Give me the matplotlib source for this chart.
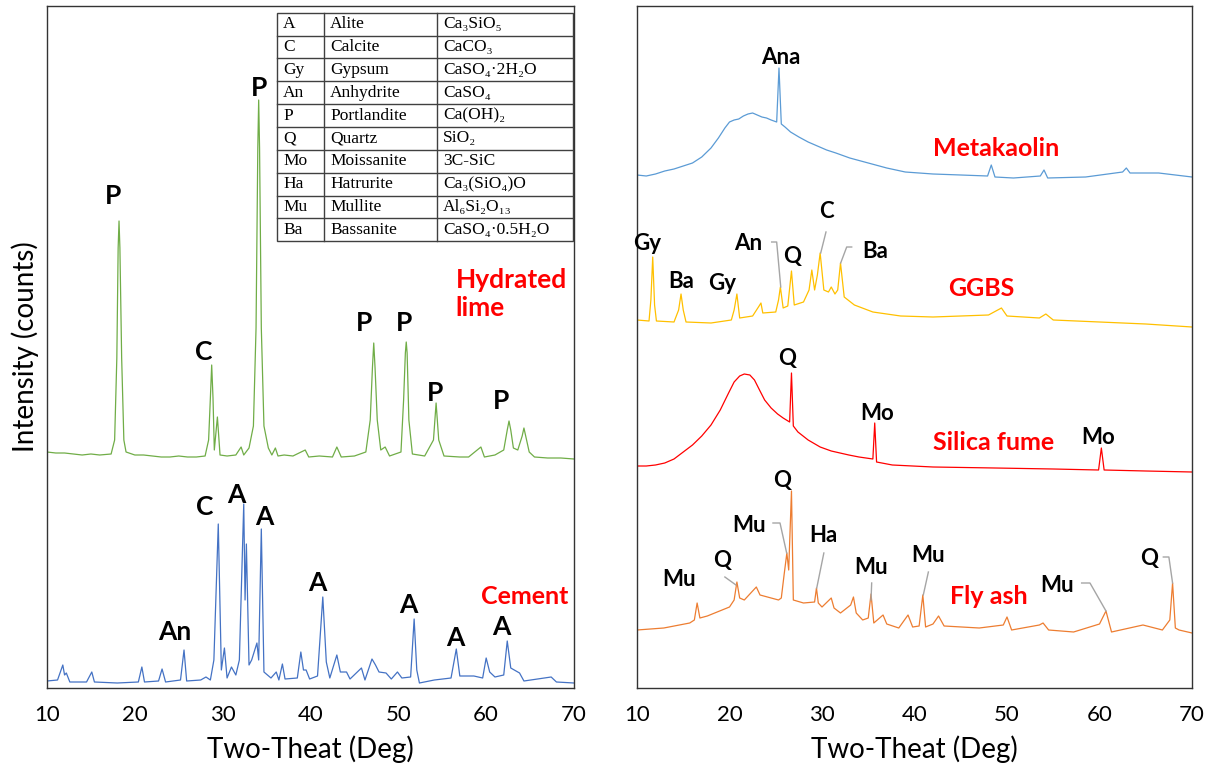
import matplotlib.pyplot as plt

# ---- data: 2-theta (deg) and intensity (arbitrary counts, stacked) ----
lime_x = [10, 11, 12, 13, 14, 15, 16, 17.3, 17.7, 17.95, 18.1, 18.2, 18.3, 18.5, 18.75, 19.0, 20, 21, 22, 23,
          24, 25, 26, 27, 28.0, 28.4, 28.6, 28.75, 28.9, 29.05, 29.4, 29.7, 30.5, 31.5, 32.1, 32.4, 33.0, 33.5,
          33.8, 34.0, 34.1, 34.2, 34.4, 34.7, 35.2, 35.6, 36.0, 36.3, 37, 38, 39.4, 39.8, 41, 42.5, 43.0, 43.5,
          45, 46.3, 46.8, 47.05, 47.2, 47.35, 47.6, 48.0, 48.5, 49.0, 50.3, 50.6, 50.8, 50.9, 51.0, 51.2,
          51.6, 53.0, 54.0, 54.3, 54.6, 55.2, 57, 58, 59.4, 59.8, 61, 62.0, 62.4, 62.6, 62.8, 63.1, 63.6,
          64.1, 64.3, 64.5, 64.9, 65.5, 67, 68.5, 70]
lime_y = [236, 235, 235, 234, 233, 234, 233, 234, 248, 330, 440, 467, 440, 330, 248, 236, 233, 233, 232, 231,
          231, 232, 231, 231, 232, 248, 290, 323, 290, 238, 271, 233, 232, 233, 241, 233, 240, 262,
          360, 540, 588, 540, 360, 262, 240, 233, 240, 232, 233, 232, 238, 231, 232, 231, 241, 231,
          232, 236, 268, 320, 345, 320, 268, 238, 241, 232, 236, 288, 335, 346, 335, 268,
          234, 232, 248, 285, 248, 232, 231, 231, 241, 231, 233, 238, 258, 267, 258, 240, 238,
          252, 260, 252, 236, 231, 230, 230, 229]

cement_x = [10, 11.2, 11.8, 12.0, 12.2, 12.6, 14.5, 15.1, 15.4, 18, 20.4, 20.8, 21.1, 22.7, 23.1, 23.5, 25.2,
            25.6, 25.9, 27.5, 28.1, 28.6, 29.0, 29.5, 29.85, 30.2, 30.5, 31.0, 31.5, 31.9, 32.4, 32.55, 32.7,
            33.0, 33.3, 33.9, 34.1, 34.4, 34.7, 35.5, 36.1, 36.4, 36.8, 37.1, 38.5, 38.9, 39.2, 39.5, 39.9,
            40.8, 41.4, 41.8, 42.2, 43.0, 43.4, 44.1, 44.5, 45.8, 46.2, 47.0, 47.4, 47.8, 48.6, 49.2, 49.9,
            50.4, 51.4, 51.8, 52.1, 52.4, 54.1, 56.0, 56.6, 57.0, 58.6, 59.6, 60.0, 60.4, 61.0, 62.0, 62.4,
            62.8, 63.8, 64.3, 67.4, 68.0, 70]
cement_y = [7, 8, 23, 13, 15, 6, 6, 16, 6, 5, 6, 21, 6, 7, 19, 6, 8,
            38, 7, 8, 11, 8, 28, 164, 18, 40, 10, 21, 13, 28, 184, 88, 144,
            23, 28, 45, 28, 159, 16, 10, 16, 8, 24, 9, 10, 36, 18, 18, 9,
            12, 91, 26, 10, 33, 16, 16, 9, 20, 8, 29, 23, 16, 15, 9, 16,
            10, 11, 69, 18, 5, 8, 10, 39, 12, 12, 10, 30, 16, 11, 13, 47,
            20, 15, 7, 11, 6, 5]

meta_x = [10, 11, 12, 13, 14, 15, 16, 17, 18, 18.8, 19.5, 20, 20.5, 21, 21.5, 22, 22.5, 23, 23.5, 24, 24.5,
          25.1, 25.35, 25.6, 26, 26.6, 27.5, 28.5, 29.5, 30.5, 31.5, 33, 35, 37, 39, 42, 45, 47.9, 48.3, 48.7,
          50.7, 53.6, 54.0, 54.4, 58.5, 62.5, 62.9, 63.3, 66.4, 70]
meta_y = [513, 512, 514, 517, 519, 522, 525, 531, 540, 550, 560, 566, 568, 569, 572, 574, 575, 573, 571, 570,
          568, 566, 620, 564, 561, 556, 551, 546, 542, 538, 535, 530, 525, 520, 516, 514, 513, 512, 523, 511,
          510, 512, 518, 510, 511, 516, 520, 515, 515, 511]

ggbs_x = [10, 11.3, 11.5, 11.7, 11.9, 12.1, 14.0, 14.5, 14.76, 15.0, 15.3, 18, 20.2, 20.5, 20.8, 21.1, 22.5,
          23.2, 23.4, 23.6, 25.0, 25.3, 25.5, 25.8, 26.3, 26.7, 27.0, 28.0, 28.6, 28.9, 29.2, 29.5, 29.8,
          30.2, 30.7, 31.0, 31.4, 31.7, 32.0, 32.4, 33.5, 35.5, 38.5, 42, 45, 48.0, 49.4, 50.0, 53.5, 54.2,
          55, 60, 65, 70]
ggbs_y = [368, 367, 388, 431, 383, 367, 366, 378, 394, 378, 366, 365, 368, 378, 394, 370, 372,
          382, 385, 375, 376, 388, 401, 380, 382, 417, 383, 386, 398, 418, 398, 413, 435,
          398, 396, 401, 394, 398, 425, 391, 383, 376, 372, 371, 372, 373, 380, 372, 370, 374,
          368, 366, 364, 361]

sf_x = [10, 11, 12, 13, 14, 15, 16, 17, 18, 19, 19.9, 20.5, 21.1, 21.6, 22.2, 22.7, 23.3, 23.8, 24.5, 25.2,
        25.8, 26.5, 26.7, 26.9, 27.4, 28.5, 29.8, 31, 32.9, 34, 35.5, 35.7, 35.9, 37.6, 42, 48.7, 55, 59.9,
        60.2, 60.5, 65, 70]
sf_y = [222, 222, 223, 225, 229, 236, 243, 252, 263, 278, 295, 306, 312, 314, 313, 308, 297, 288, 280, 274,
        270, 266, 315, 262, 256, 248, 241, 237, 233, 231, 229, 265, 226, 223, 221, 220, 219, 218,
        240, 218, 217, 216]

fa_x = [10, 12.9, 15.7, 16.2, 16.5, 16.8, 17.6, 20.0, 20.5, 20.8, 21.1, 21.6, 22.9, 23.3, 25.3, 25.6, 25.9,
        26.2, 26.4, 26.7, 26.9, 28.0, 29.2, 29.4, 29.6, 30.0, 31.0, 31.3, 32.0, 33.1, 33.4, 33.7, 34.4,
        35.0, 35.3, 35.6, 36.6, 37.0, 38.3, 39.3, 39.8, 40.5, 40.9, 41.2, 42.0, 42.6, 43.2, 47.0, 49.6,
        50.0, 50.5, 53.5, 53.9, 54.5, 57.2, 60.0, 60.7, 61.3, 64.7, 66.8, 67.6, 67.9, 68.2, 68.6, 70]
fa_y = [58, 60, 65, 68, 85, 70, 72, 81, 88, 106, 90, 88, 101, 93, 88, 90, 113,
        135, 118, 197, 88, 85, 86, 100, 85, 81, 90, 80, 75, 83, 91, 75, 68,
        70, 94, 65, 73, 64, 60, 73, 61, 62, 93, 61, 64, 72, 62, 60, 63,
        71, 58, 63, 65, 58, 56, 64, 77, 56, 63, 58, 68, 105, 60, 58, 55]

# peak labels: (text, 2-theta, intensity)
left_labels = [('P', 17.5, 492), ('C', 27.8, 336), ('P', 34.1, 600), ('P', 46.1, 365), ('P', 50.6, 365),
               ('P', 54.2, 295), ('P', 61.7, 287),
               ('C', 27.95, 181), ('A', 31.55, 193), ('A', 34.77, 171), ('An', 24.55, 56), ('A', 40.83, 105),
               ('A', 51.17, 83), ('A', 56.48, 50), ('A', 61.67, 61)]
right_labels = [('Ana', 25.57, 630),
                ('Gy', 11.05, 445), ('Ba', 14.83, 406), ('Gy', 19.16, 405), ('An', 22.0, 445), ('Q', 26.72, 431),
                ('C', 30.43, 476), ('Ba', 35.73, 436),
                ('Q', 26.2, 330), ('Mo', 35.95, 275), ('Mo', 59.8, 250),
                ('Mu', 14.57, 109), ('Q', 19.16, 127), ('Mu', 22.1, 163), ('Q', 25.64, 207), ('Ha', 30.14, 153),
                ('Mu', 35.3, 120), ('Mu', 41.5, 132), ('Mu', 55.37, 103), ('Q', 65.38, 129)]
leaders = [[(24.56, 446), (25.10, 446), (25.54, 401)],
           [(30.43, 456), (29.86, 435)],
           [(33.21, 441), (32.67, 441), (32.02, 425)],
           [(19.5, 111), (20.7, 103)],
           [(24.7, 165), (25.46, 165), (26.18, 135)],
           [(30.2, 135), (29.43, 100)],
           [(35.37, 105), (35.3, 88)],
           [(41.5, 116), (40.95, 93)],
           [(58.07, 105), (58.97, 105), (60.7, 77)],
           [(66.9, 131), (67.5, 131), (67.9, 105)]]

abbr = ['A', 'C', 'Gy', 'An', 'P', 'Q', 'Mo', 'Ha', 'Mu', 'Ba']
names = ['Alite', 'Calcite', 'Gypsum', 'Anhydrite', 'Portlandite', 'Quartz', 'Moissanite', 'Hatrurite',
         'Mullite', 'Bassanite']
formulas = ['Ca₃SiO₅', 'CaCO₃', 'CaSO₄·2H₂O', 'CaSO₄', 'Ca(OH)₂', 'SiO₂', '3C-SiC', 'Ca₃(SiO₄)O',
            'Al₆Si₂O₁₃', 'CaSO₄·0.5H₂O']

sans = ['Lato', 'DejaVu Sans']
serif = ['Liberation Serif', 'DejaVu Serif']

fig = plt.figure(figsize=(12.07, 7.70), dpi=100)
ax1 = fig.add_axes([47 / 1207, 82 / 770, 527 / 1207, 682 / 770])
ax2 = fig.add_axes([637 / 1207, 82 / 770, 555 / 1207, 682 / 770])

ax1.plot(lime_x, lime_y, color='#70AD47', lw=0.9)
ax1.plot(cement_x, cement_y, color='#4472C4', lw=0.9)
ax2.plot(meta_x, meta_y, color='#5B9BD5', lw=0.9)
ax2.plot(ggbs_x, ggbs_y, color='#FFC000', lw=0.9)
ax2.plot(sf_x, sf_y, color='#FF0000', lw=0.9)
ax2.plot(fa_x, fa_y, color='#ED7D31', lw=0.9)

for ax in (ax1, ax2):
    ax.set_xlim(10, 70)
    ax.set_ylim(0, 682)
    ax.set_xticks(range(10, 71, 10))
    ax.set_yticks([])
    ax.tick_params(axis='x', length=0, pad=12, labelsize=16)
    for lab in ax.get_xticklabels():
        lab.set_family(sans)
    for sp in ax.spines.values():
        sp.set_color('#333333')
        sp.set_linewidth(1.0)
    ax.set_xlabel('Two-Theat (Deg)', fontsize=20, family=sans, labelpad=8)

ax1.set_ylabel('Intensity (counts)', fontsize=20, family=sans, labelpad=6)

for t, x, y in left_labels:
    ax1.text(x, y, t, ha='center', va='center', fontsize=19, fontweight='bold', family=sans)
for t, x, y in right_labels:
    ax2.text(x, y, t, ha='center', va='center', fontsize=16, fontweight='bold', family=sans)
for pts in leaders:
    ax2.plot([p[0] for p in pts], [p[1] for p in pts], color='#A5A5A5', lw=1)

red = dict(color='#FF0000', fontweight='bold', family=sans)
ax1.text(56.55, 394, 'Hydrated\nlime', ha='left', va='center', fontsize=19, linespacing=1.25, **red)
ax1.text(64.4, 92, 'Cement', ha='center', va='center', fontsize=18, **red)
ax2.text(48.8, 540, 'Metakaolin', ha='center', va='center', fontsize=18, **red)
ax2.text(47.27, 399, 'GGBS', ha='center', va='center', fontsize=18, **red)
ax2.text(48.5, 246, 'Silica fume', ha='center', va='center', fontsize=18, **red)
ax2.text(47.98, 91, 'Fly ash', ha='center', va='center', fontsize=18, **red)

# legend table (pixel layout converted to axes fraction)
def fx(px):
    return (px - 47) / 527


def fy(py):
    return (688 - py) / 682


cols = [277, 324, 437, 573]
top, rh = 12.7, 22.85
n = len(abbr)
ax1.add_patch(plt.Rectangle((fx(cols[0]), fy(top + n * rh)), fx(cols[-1]) - fx(cols[0]),
                            fy(top) - fy(top + n * rh), transform=ax1.transAxes,
                            facecolor='white', edgecolor='#404040', lw=1, zorder=3))
for i in range(1, n):
    y = fy(top + i * rh)
    ax1.plot([fx(cols[0]), fx(cols[-1])], [y, y], transform=ax1.transAxes, color='#404040', lw=1, zorder=4)
for c in cols[1:-1]:
    ax1.plot([fx(c), fx(c)], [fy(top), fy(top + n * rh)], transform=ax1.transAxes,
             color='#404040', lw=1, zorder=4)
for i in range(n):
    yc = fy(top + (i + 0.5) * rh)
    for txt, c in zip((abbr[i], names[i], formulas[i]), cols[:3]):
        ax1.text(fx(c + 6), yc, txt, transform=ax1.transAxes, ha='left', va='center',
                 fontsize=12.5, family=serif, zorder=5)

plt.savefig('out.png', dpi=100)
